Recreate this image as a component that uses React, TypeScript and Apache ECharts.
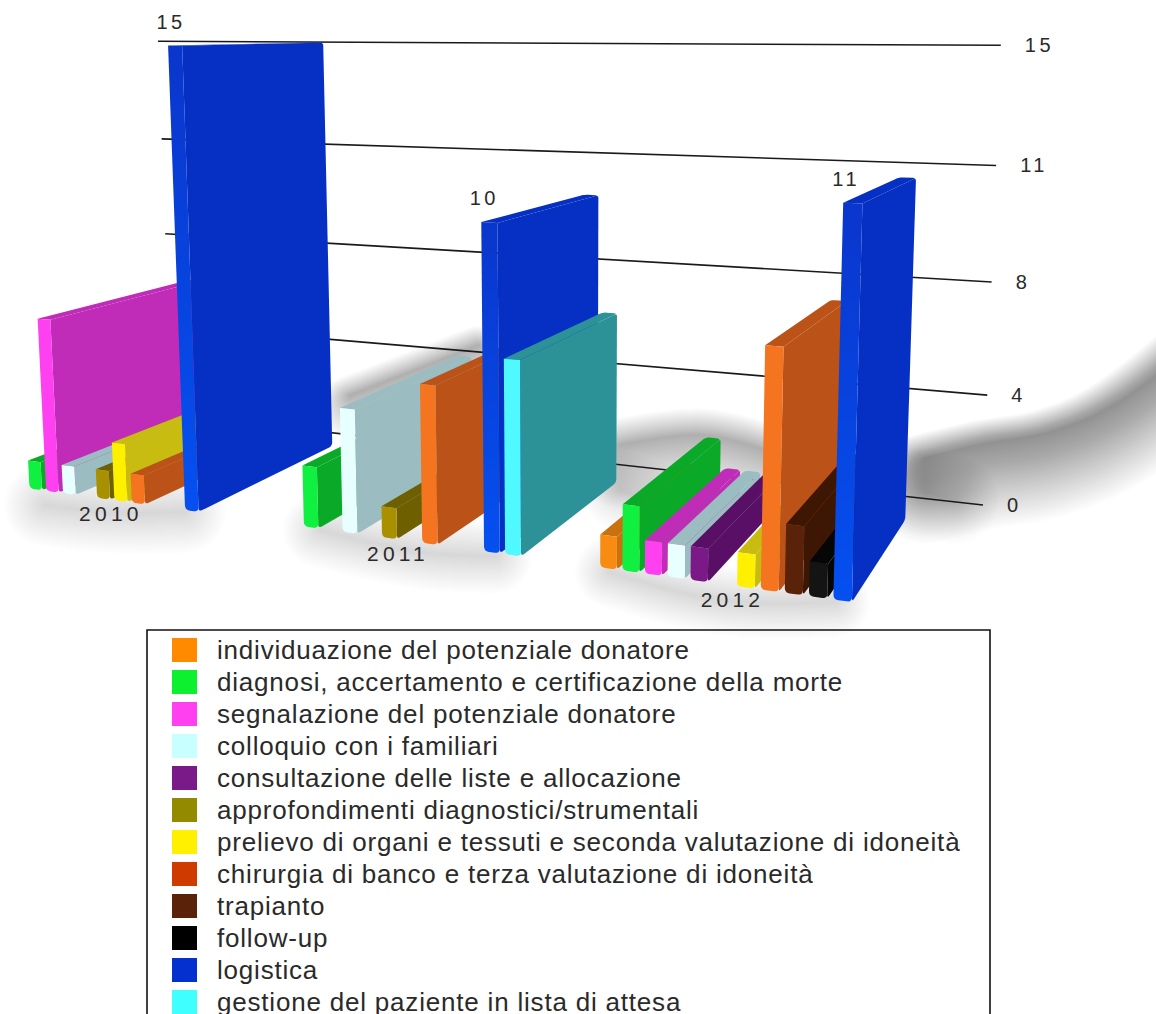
import React, { useEffect, useRef } from "react";
import * as echarts from "echarts";

const years = ["2010", "2011", "2012"];

const seriesNames = [
  "individuazione del potenziale donatore",
  "diagnosi, accertamento e certificazione della morte",
  "segnalazione del potenziale donatore",
  "colloquio con i familiari",
  "consultazione delle liste e allocazione",
  "approfondimenti diagnostici/strumentali",
  "prelievo di organi e tessuti e seconda valutazione di idoneità",
  "chirurgia di banco e terza valutazione di idoneità",
  "trapianto",
  "follow-up",
  "logistica",
  "gestione del paziente in lista di attesa",
];

// One list per activity, one value per year.
const individuazione = [0, 0, 1];
const diagnosi = [1, 2, 2];
const segnalazione = [6, 0, 1];
const colloquio = [1, 4, 1];
const consultazione = [0, 0, 1];
const approfondimenti = [1, 1, 0];
const prelievo = [2, 0, 1];
const chirurgia = [1, 5, 7];
const trapianto = [0, 0, 2];
const followUp = [0, 0, 1];
const logistica = [15, 10, 11];
const gestione = [0, 6, 0];

const seriesValues = [
  individuazione, diagnosi, segnalazione, colloquio, consultazione, approfondimenti,
  prelievo, chirurgia, trapianto, followUp, logistica, gestione,
];

const tickValues = [0, 3.75, 7.5, 11.25, 15];
const tickLabels = ["0", "4", "8", "11", "15"];

// Legend swatch, front face and side face colour of each activity.
const legendColors = ["#ff8a00", "#0cf030", "#ff40f0", "#c8ffff", "#7a1a88", "#948a00", "#fff000", "#cf3a00", "#5a2208", "#000000", "#0530d0", "#40ffff"];
const frontColors = ["#f88c12", "#10f040", "#ff40f0", "#e8ffff", "#7b1a86", "#a89000", "#fff000", "#f47420", "#5a2208", "#141414", "#0550f0", "#50f8ff"];
const sideColors = ["#c9700f", "#0aaa28", "#c02cb8", "#9bbcc0", "#5a0f66", "#6e6000", "#c8bc10", "#bb5218", "#3e1604", "#060606", "#0630c4", "#2c9298"];

const VALUE_LABEL_SERIES = 10;
const GROUP_SPAN = 15.4;
const BAR_WIDTH = 0.75;
const X_MAX = 50;
const Y_MAX = 15;

type Pt = [number, number];

// Floor of the perspective scene: t runs along the front edge, bars run back towards a vanishing point.
const frontPoint = (t: number): Pt => {
  const x = 13 + (16.44 * t) / (1 - 0.00447 * t);
  return [x, 510 + 0.138 * (x - 185)];
};
const backPoint = (t: number): Pt => {
  const [fx, fy] = frontPoint(t);
  const slope = (-5 - fy) / (1246 - fx);
  const x = (fy - slope * fx - 445 + 0.129 * 325) / (0.129 - slope);
  return [x, 445 + 0.129 * (x - 325)];
};
// Raises a floor point to height v; verticals lean towards a far vanishing point below the scene.
const raise = (p: Pt, v: number): Pt => {
  const unit = 24.8 + 0.06 * (p[1] - 437);
  const h = (unit * v) / (1 - 0.00384 * v);
  return [p[0] - ((573 - p[0]) / (11100 - p[1])) * h, p[1] - h];
};

// Replaces polygon corners by sampled quadratic curves.
const rounded = (pts: Pt[], radii: number[]): Pt[] => {
  const out: Pt[] = [];
  pts.forEach((p, i) => {
    const r = radii[i];
    if (!r) {
      out.push(p);
      return;
    }
    const a = pts[(i + pts.length - 1) % pts.length];
    const b = pts[(i + 1) % pts.length];
    const la = Math.hypot(a[0] - p[0], a[1] - p[1]);
    const lb = Math.hypot(b[0] - p[0], b[1] - p[1]);
    const ra = Math.min(r, la / 2);
    const rb = Math.min(r, lb / 2);
    const s: Pt = [p[0] + ((a[0] - p[0]) * ra) / la, p[1] + ((a[1] - p[1]) * ra) / la];
    const e: Pt = [p[0] + ((b[0] - p[0]) * rb) / lb, p[1] + ((b[1] - p[1]) * rb) / lb];
    for (let k = 0; k <= 5; k++) {
      const u = k / 5;
      out.push([
        (1 - u) * (1 - u) * s[0] + 2 * u * (1 - u) * p[0] + u * u * e[0],
        (1 - u) * (1 - u) * s[1] + 2 * u * (1 - u) * p[1] + u * u * e[1],
      ]);
    }
  });
  return out;
};

// Reads scene coordinates back from the hidden axes.
const toScene = (api: any, x: number, y: number) => {
  const o = api.coord([0, 0]);
  const m = api.coord([X_MAX, Y_MAX]);
  const c = api.coord([x, y]);
  return { t: ((c[0] - o[0]) / (m[0] - o[0])) * X_MAX, v: ((c[1] - o[1]) / (m[1] - o[1])) * Y_MAX };
};

const barRenderer = (seriesIndex: number) => (_: any, api: any) => {
  const { t, v } = toScene(api, api.value(0), api.value(1));
  if (!(v > 0)) return null;
  const tr = t + BAR_WIDTH;
  const fl = frontPoint(t);
  const fr = frontPoint(tr);
  const bl = backPoint(t);
  const br = backPoint(tr);
  const ftl = raise(fl, v);
  const ftr = raise(fr, v);
  const btl = raise(bl, v);
  const btr = raise(br, v);
  const side = sideColors[seriesIndex];
  const front = frontColors[seriesIndex];
  const isLogistics = seriesIndex === VALUE_LABEL_SERIES;
  const children: any[] = [
    {
      type: "polygon",
      shape: { points: rounded([ftl, btl, btr, ftr], [0, 4, 3, 0]) },
      style: { fill: side },
    },
    {
      type: "polygon",
      shape: { points: rounded([fr, br, btr, ftr], [4, 4, 3, 0]) },
      style: { fill: side },
    },
    {
      type: "polygon",
      shape: { points: rounded([fl, fr, ftr, ftl], [5, 5, 0, 0]) },
      style: {
        // The tall blue bars darken towards their top.
        fill: isLogistics
          ? new echarts.graphic.LinearGradient(0, 0, 0, 1, [
              { offset: 0, color: "#0a36cc" },
              { offset: 1, color: front },
            ])
          : front,
      },
    },
  ];
  if (isLogistics) {
    children.push({
      type: "text",
      x: ftl[0] + 3,
      y: ftl[1] - 24,
      style: {
        text: String(api.value(1)),
        fill: "#2a2a2a",
        font: "20px 'Liberation Sans'",
        align: "center",
        verticalAlign: "middle",
      },
    });
  }
  return { type: "group", children };
};

const gridRenderer = (params: any, api: any) => {
  const { v } = toScene(api, 0, api.value(0));
  const a = raise([172, 415], v);
  const b = raise([983, 505], v);
  return {
    type: "group",
    children: [
      {
        type: "line",
        shape: { x1: a[0], y1: a[1], x2: b[0], y2: b[1] },
        style: { stroke: "#1a1a1a", lineWidth: 1.6 },
      },
      {
        type: "text",
        x: b[0] + 24,
        y: b[1],
        style: {
          text: tickLabels[params.dataIndex],
          fill: "#2a2a2a",
          font: "20px 'Liberation Sans'",
          align: "left",
          verticalAlign: "middle",
        },
      },
    ],
  };
};

const yearRenderer = (params: any, api: any) => {
  const { t } = toScene(api, api.value(0), 0);
  const p = frontPoint(t);
  return {
    type: "text",
    x: p[0],
    y: p[1] + 14,
    style: {
      text: years[params.dataIndex],
      fill: "#2a2a2a",
      font: "21px 'Liberation Sans'",
      align: "center",
      verticalAlign: "middle",
    },
  };
};

// Soft floor shadow: stacked translucent strokes of growing width.
const softStroke = (spine: Pt[], maxWidth: number, bias: number, peak: number) => {
  const layers = 40;
  const out: any[] = [];
  for (let i = 1; i <= layers; i++) {
    const w = maxWidth * Math.pow(i / layers, 1.1);
    out.push({
      type: "polyline",
      silent: true,
      z: 0,
      shape: { points: spine.map(([x, y]) => [x, y + w * bias]), smooth: 0.4 },
      style: {
        fill: null,
        stroke: `rgba(0,0,0,${(peak / layers).toFixed(4)})`,
        lineWidth: w,
        lineCap: "round",
        lineJoin: "round",
      },
    });
  }
  return out;
};

const floorShadows = [
  ...softStroke([[925, 458], [983, 444], [1050, 432], [1117, 403], [1185, 352]], 110, 0.28, 0.46),
  ...softStroke([[925, 492], [955, 500]], 90, 0, 0.16),
  ...softStroke([[620, 445], [700, 435], [765, 450]], 90, 0.2, 0.24),
  ...softStroke([[620, 490], [650, 500]], 80, 0, 0.08),
  ...softStroke([[350, 395], [420, 368], [478, 345]], 64, 0.2, 0.26),
  ...softStroke([[45, 505], [110, 512], [185, 512]], 84, 0, 0.17),
  ...softStroke([[320, 530], [420, 552], [495, 556]], 76, 0, 0.13),
  ...softStroke([[610, 572], [720, 600], [835, 602]], 72, 0, 0.13),
];

export default function App() {
  const ref = useRef<HTMLDivElement>(null);

  useEffect(() => {
    const chart = echarts.init(ref.current!, undefined, { renderer: "svg" });
    chart.setOption({
      animation: false,
      backgroundColor: "#ffffff",
      grid: { left: 100, right: 100, top: 45, bottom: 509 },
      xAxis: { type: "value", min: 0, max: X_MAX, show: false },
      yAxis: { type: "value", min: 0, max: Y_MAX, interval: 3.75, show: false },
      legend: {
        data: seriesNames,
        orient: "vertical",
        left: 172,
        top: 637,
        height: 460,
        padding: 0,
        icon: "rect",
        itemWidth: 25,
        itemHeight: 24,
        itemGap: 6,
        selectedMode: false,
        textStyle: {
          fontFamily: "'Liberation Sans'",
          fontSize: 26,
          lineHeight: 24,
          color: "#2a2a2a",
          padding: [0, 0, 0, 15],
        },
      },
      graphic: {
        elements: [
          ...floorShadows,
          {
            type: "rect",
            silent: true,
            z: 1,
            shape: { x: 147, y: 630, width: 843, height: 420 },
            style: { fill: null, stroke: "#111", lineWidth: 1.6 },
          },
        ],
      },
      series: [
        {
          type: "custom",
          name: "griglia",
          silent: true,
          renderItem: gridRenderer,
          data: tickValues.map((v) => [v]),
          encode: { y: 0 },
          z: 1,
        },
        ...seriesNames.map((name, s) => ({
          type: "custom",
          name,
          silent: true,
          itemStyle: { color: legendColors[s] },
          renderItem: barRenderer(s),
          data: seriesValues[s].map((v, c) => [c * GROUP_SPAN + s, v]),
          encode: { x: 0, y: 1 },
          z: 2,
        })),
        {
          type: "custom",
          name: "anni",
          silent: true,
          renderItem: yearRenderer,
          data: years.map((_, c) => [c * GROUP_SPAN + 5.8]),
          encode: { x: 0 },
          z: 3,
        },
      ],
    });
    return () => chart.dispose();
  }, []);

  return (
    <div className="scene" style={{ position: "fixed", left: 0, top: 0, width: 1156, height: 1014, overflow: "hidden" }}>
      <style>{`.scene text{letter-spacing:.8px}.scene text[style*="20px"]{letter-spacing:3.5px}.scene text[style*="21px"]{letter-spacing:4.2px}`}</style>
      <div ref={ref} style={{ width: 1156, height: 1014 }} />
    </div>
  );
}
